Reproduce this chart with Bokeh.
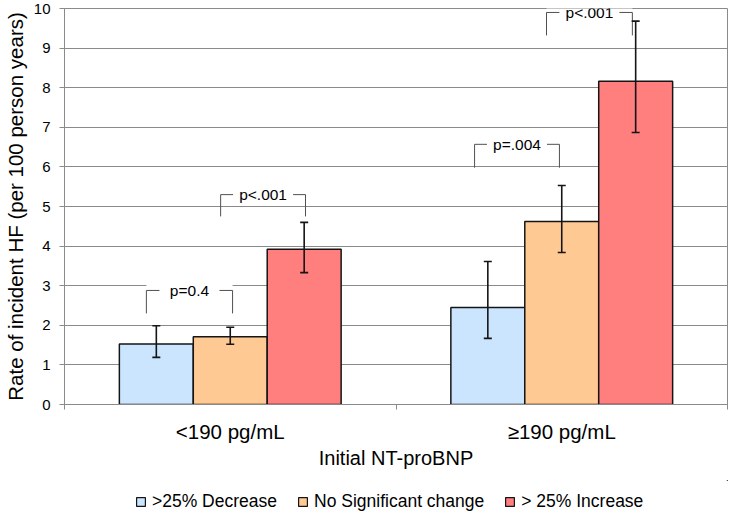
from bokeh.plotting import figure
from bokeh.layouts import column
from bokeh.models import (FixedTicker, Legend, LegendItem, Whisker, ColumnDataSource,
                          Label, TeeHead, Range1d)
from bokeh.embed import file_html
from bokeh.resources import INLINE

# ---- data ----
categories = ["<190 pg/mL", "\u2265190 pg/mL"]
series = [">25% Decrease", "No Significant change", "> 25% Increase"]
decrease = [1.53, 2.45]
decrease_lo = [1.19, 1.67]
decrease_hi = [1.99, 3.61]
nochange = [1.71, 4.62]
nochange_lo = [1.52, 3.84]
nochange_hi = [1.95, 5.53]
increase = [3.92, 8.16]
increase_lo = [3.33, 6.87]
increase_hi = [4.60, 9.68]
y_ticks = [0, 1, 2, 3, 4, 5, 6, 7, 8, 9, 10]

# significance brackets (text, left x, right x, bar level, leg bottom)
bracket_text = ["p=0.4", "p<.001", "p=.004", "p<.001"]
bracket_x0 = [0.247, 0.471, 1.237, 1.454]
bracket_x1 = [0.507, 0.727, 1.493, 1.713]
bracket_y = [2.88, 5.30, 6.57, 9.90]
bracket_leg = [2.30, 4.75, 5.98, 9.32]

colors = ["#CCE5FF", "#FFC993", "#FF7F7F"]
FONT = "Liberation Sans"
GRID = "#8a8a8a"

p = figure(width=728, height=480, x_range=Range1d(0, 2), y_range=Range1d(0, 10),
           output_backend="svg", toolbar_location=None,
           min_border_left=64, min_border_right=1, min_border_top=8, min_border_bottom=76)
p.outline_line_color = GRID
p.outline_line_width = 1
p.xgrid.grid_line_color = None
p.ygrid.grid_line_color = GRID
p.ygrid.grid_line_width = 1
p.background_fill_color = "white"

# axes
p.yaxis.ticker = FixedTicker(ticks=y_ticks, minor_ticks=[])
p.yaxis.axis_line_color = GRID
p.yaxis.major_tick_line_color = GRID
p.yaxis.major_tick_out = 5
p.yaxis.major_tick_in = 0
p.yaxis.major_label_text_font = FONT
p.yaxis.major_label_text_font_size = "15px"
p.yaxis.major_label_text_color = "black"
p.yaxis.major_label_standoff = 9
p.yaxis.axis_label = "Rate of incident HF (per 100 person years)"
p.yaxis.axis_label_text_font = FONT
p.yaxis.axis_label_text_font_size = "20.5px"
p.yaxis.axis_label_text_font_style = "normal"
p.yaxis.axis_label_text_color = "black"
p.yaxis.axis_label_standoff = 4

centers = [i + 0.5 for i in range(len(categories))]
p.xaxis.ticker = FixedTicker(ticks=centers, minor_ticks=[0, 1, 2])
p.xaxis.major_label_overrides = {c: lab for c, lab in zip(centers, categories)}
p.xaxis.axis_line_color = GRID
p.xaxis.major_tick_line_color = None
p.xaxis.major_tick_out = 0
p.xaxis.major_tick_in = 0
p.xaxis.minor_tick_line_color = GRID
p.xaxis.minor_tick_out = 5
p.xaxis.minor_tick_in = 0
p.xaxis.major_label_text_font = FONT
p.xaxis.major_label_text_font_size = "20.5px"
p.xaxis.major_label_text_color = "black"
p.xaxis.major_label_standoff = 10
p.xaxis.axis_label = "Initial NT-proBNP"
p.xaxis.axis_label_text_font = FONT
p.xaxis.axis_label_text_font_size = "20px"
p.xaxis.axis_label_text_font_style = "normal"
p.xaxis.axis_label_text_color = "black"
p.xaxis.axis_label_standoff = 1

# bars
bw = 0.223
vals = [decrease, nochange, increase]
los = [decrease_lo, nochange_lo, increase_lo]
his = [decrease_hi, nochange_hi, increase_hi]
sources = []
for i, (name, v, lo, hi, col) in enumerate(zip(series, vals, los, his, colors)):
    xs = [c + (i - 1) * bw for c in centers]
    src = ColumnDataSource(dict(x=xs, top=v, lo=lo, hi=hi))
    sources.append(src)
    p.vbar(x="x", top="top", width=bw, bottom=0, source=src,
           fill_color=col, line_color="#151515", line_width=1.5)
    w = Whisker(source=src, base="x", lower="lo", upper="hi", level="overlay",
                line_color="#151515", line_width=1.6,
                upper_head=TeeHead(size=8, line_color="#151515", line_width=1.6),
                lower_head=TeeHead(size=8, line_color="#151515", line_width=1.6))
    p.add_layout(w)

# brackets
gap = 0.0905
box = 0.23
mids = [(a + b) / 2 for a, b in zip(bracket_x0, bracket_x1)]
p.quad(left=bracket_x0, right=bracket_x1, bottom=[y - box for y in bracket_y],
       top=[y + box for y in bracket_y], fill_color="white", line_color=None)
p.segment(x0=bracket_x0, y0=bracket_y, x1=[m - gap for m in mids], y1=bracket_y,
          line_color="#505050", line_width=1)
p.segment(x0=[m + gap for m in mids], y0=bracket_y, x1=bracket_x1, y1=bracket_y,
          line_color="#505050", line_width=1)
p.segment(x0=bracket_x0, y0=bracket_y, x1=bracket_x0, y1=bracket_leg,
          line_color="#505050", line_width=1)
p.segment(x0=bracket_x1, y0=bracket_y, x1=bracket_x1, y1=bracket_leg,
          line_color="#505050", line_width=1)
for t, m, y in zip(bracket_text, mids, bracket_y):
    p.add_layout(Label(x=m, y=y, text=t, text_align="center", text_baseline="middle",
                       text_font=FONT, text_font_size="15.5px", text_color="black"))

# legend strip below the chart (its bars lie entirely outside its visible ranges)
p2 = figure(width=728, height=33, x_range=Range1d(-30, -20), y_range=Range1d(-30, -20),
            output_backend="svg", toolbar_location=None, min_border=0,
            min_border_left=64, min_border_right=1)
p2.axis.visible = False
p2.grid.visible = False
p2.outline_line_color = None
items = []
for name, col, src in zip(series, colors, sources):
    r = p2.vbar(x="x", top="top", width=bw, bottom=0, source=src,
                fill_color=col, line_color="#151515", line_width=1.2)
    items.append(LegendItem(label=name, renderers=[r]))
legend = Legend(items=items, orientation="horizontal", location=(71, 1),
                label_text_font=FONT, label_text_font_size="17.5px",
                label_text_color="black", glyph_width=11, glyph_height=11,
                label_standoff=6, spacing=20, padding=0, margin=0,
                border_line_color=None, background_fill_alpha=0)
p2.add_layout(legend)

open("out.html", "w").write(file_html(column(p, p2, spacing=0), INLINE))
